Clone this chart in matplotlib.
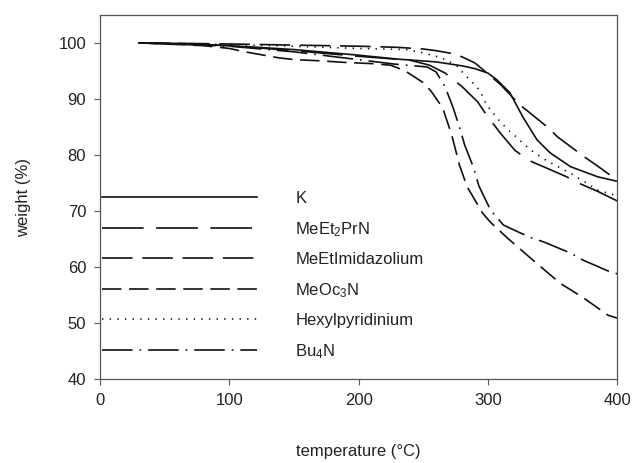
import matplotlib
matplotlib.use("Agg")
import matplotlib.pyplot as plt

plt.rcParams['font.family'] = ['Liberation Sans', 'DejaVu Sans']
plt.rcParams['mathtext.default'] = 'regular'
plt.rcParams['lines.scale_dashes'] = False

# TGA curves, temperature (°C) vs weight (%)
k_t = [30, 60, 100, 150, 200, 230, 260, 280, 290, 300, 307, 317, 327, 338, 348, 364, 385, 400]
k_w = [100, 99.9, 99.5, 98.8, 97.8, 97.1, 96.6, 95.9, 95.4, 94.6, 93.4, 91.1, 86.8, 82.7, 80.4, 77.9, 76.1, 75.3]

meet2prn_t = [30, 100, 150, 200, 240, 255, 267, 280, 292, 299, 310, 321, 332, 345, 361, 370, 385, 400]
meet2prn_w = [100, 99.5, 98.6, 97.6, 96.9, 96.0, 94.6, 92.2, 89.5, 87.1, 83.8, 80.8, 79.0, 77.7, 76.1, 75.0, 73.5, 71.8]

imid_t = [30, 100, 150, 200, 230, 250, 260, 270, 280, 290, 300, 310, 317, 325, 347, 354, 375, 385, 400]
imid_w = [100, 99.8, 99.6, 99.4, 99.2, 98.9, 98.6, 98.2, 97.5, 96.4, 94.5, 92.5, 90.8, 88.9, 84.8, 83.2, 79.6, 78.0, 75.5]

meoc3n_t = [30, 80, 100, 112, 139, 151, 170, 190, 210, 225, 236, 250, 256, 265, 272, 278, 284, 296, 302, 315, 320, 334, 356, 374, 393, 400]
meoc3n_w = [100, 99.5, 99.0, 98.4, 97.3, 97.0, 96.8, 96.5, 96.3, 96.0, 95.0, 92.9, 91.4, 88.4, 83.6, 78.2, 74.3, 69.6, 68.0, 65.2, 64.2, 61.4, 57.1, 54.5, 51.4, 50.9]

hexyl_t = [30, 100, 150, 200, 237, 250, 263, 269, 276, 281, 286, 292, 296, 299, 304, 309, 315, 321, 327, 333, 340, 346, 352, 359, 365, 371, 378, 384, 400]
hexyl_w = [100, 99.7, 99.4, 99.0, 98.8, 98.2, 97.4, 96.8, 95.9, 94.6, 93.4, 92.0, 90.5, 88.9, 87.5, 86.1, 84.6, 83.4, 82.1, 80.9, 79.8, 78.9, 78.2, 77.3, 76.6, 75.7, 74.8, 73.8, 72.7]

bu4n_t = [30, 100, 150, 200, 228, 253, 260, 267, 273, 278, 282, 289, 293, 302, 312, 325, 334, 343, 364, 374, 393, 400]
bu4n_w = [100, 99.4, 98.4, 97.0, 96.2, 95.7, 94.8, 92.1, 88.5, 85.0, 81.8, 77.7, 74.5, 70.2, 67.5, 66.1, 65.2, 64.5, 62.5, 61.2, 59.3, 58.8]

labels = ['K', 'MeEt$_2$PrN', 'MeEtImidazolium', 'MeOc$_3$N', 'Hexylpyridinium', 'Bu$_4$N']
x_ticks = [0, 100, 200, 300, 400]
y_ticks = [40, 50, 60, 70, 80, 90, 100]

series = [(k_t, k_w), (meet2prn_t, meet2prn_w), (imid_t, imid_w),
          (meoc3n_t, meoc3n_w), (hexyl_t, hexyl_w), (bu4n_t, bu4n_w)]
dash_styles = [None, (30, 9), (22, 7), (14, 5.5), (1, 4.5), (22, 5, 1.2, 5)]

text_col = '#222222'
fig = plt.figure(figsize=(6.33, 4.63), dpi=100)
ax = fig.add_axes([0.158, 0.181, 0.817, 0.787])

for (t, w), lab, ds in zip(series, labels, dash_styles):
    line, = ax.plot(t, w, color='#111111', lw=1.2, label=lab)
    if ds is not None:
        line.set_dashes(ds)

ax.set_xlim(0, 400)
ax.set_ylim(40, 105)
ax.set_xticks(x_ticks)
ax.set_yticks(y_ticks)
ax.tick_params(direction='out', length=4, width=0.8, color='#555555',
               labelsize=12, labelcolor=text_col, pad=6)
for spine in ax.spines.values():
    spine.set_color('#555555')
    spine.set_linewidth(0.9)

ax.set_xlabel('temperature (°C)', fontsize=12, color=text_col, labelpad=26)
ax.set_ylabel('weight (%)', fontsize=12, color=text_col, labelpad=20)

leg = ax.legend(loc='upper left', bbox_to_anchor=(0.004, 0.516), frameon=False,
                fontsize=12, handlelength=9.3, handletextpad=2.3,
                labelspacing=0.82, borderpad=0, borderaxespad=0)
for txt in leg.get_texts():
    txt.set_color(text_col)

fig.savefig('out.png', dpi=100)
